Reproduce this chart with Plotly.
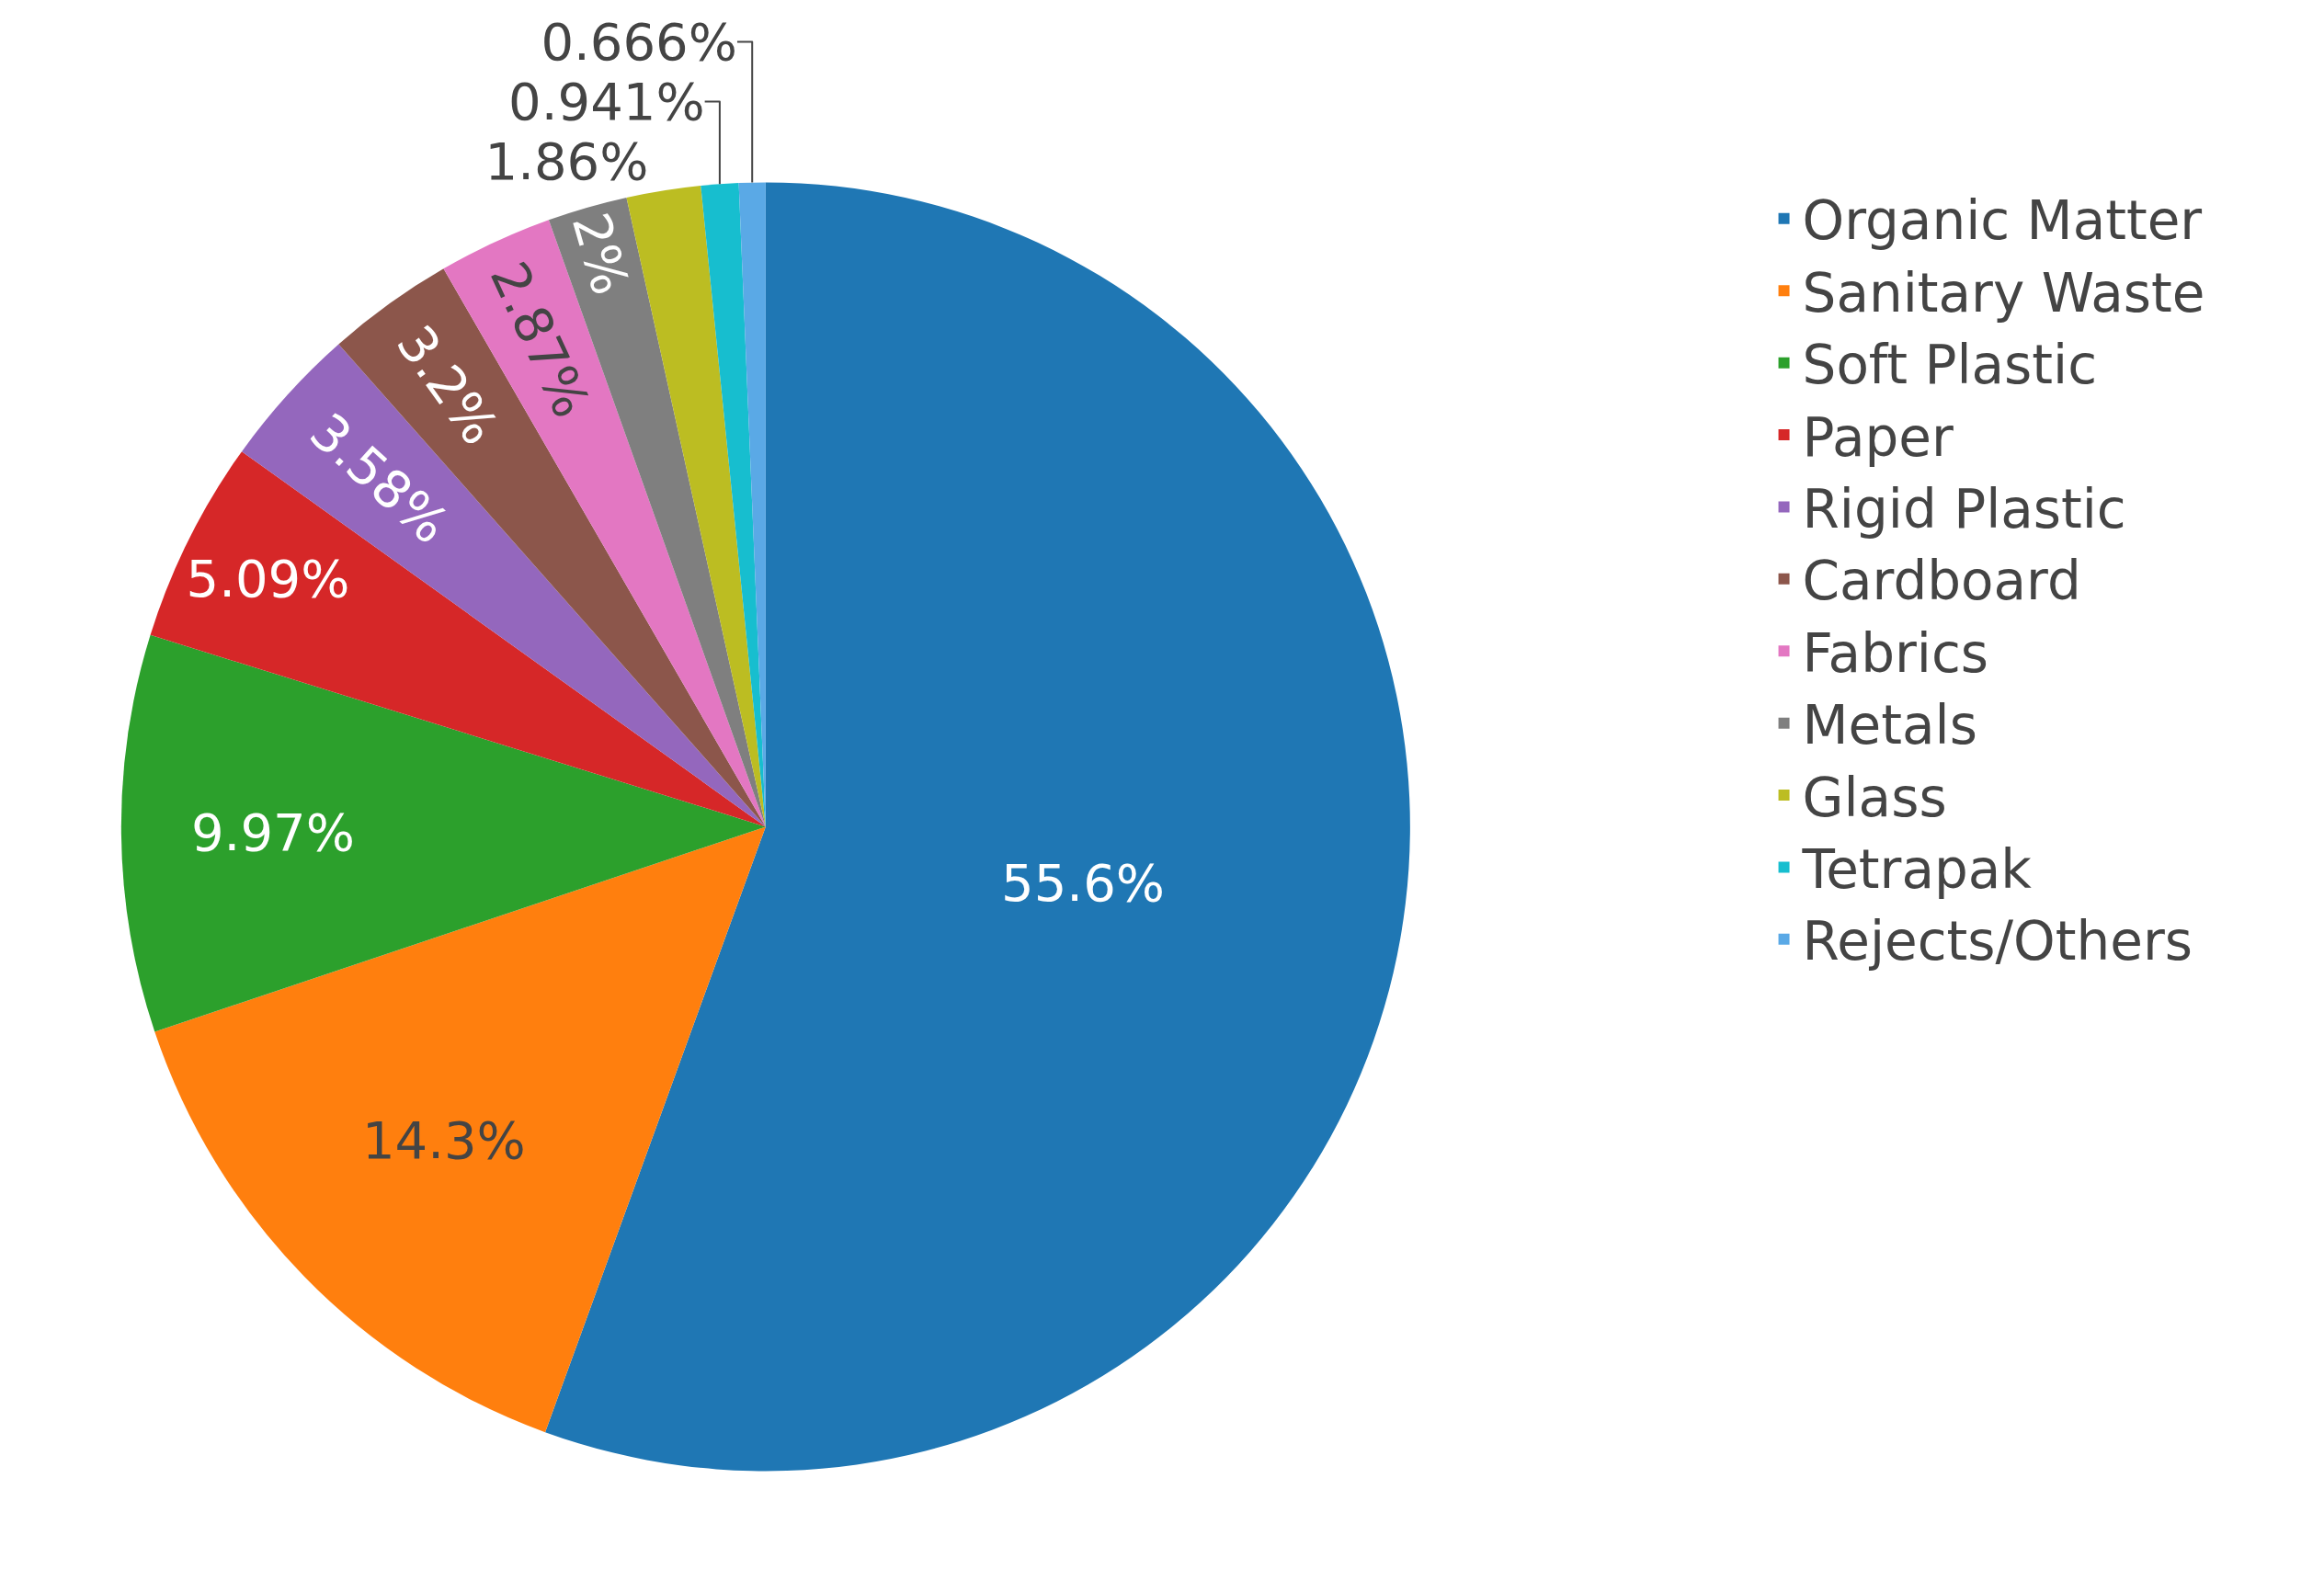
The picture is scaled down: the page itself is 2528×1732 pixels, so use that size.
import plotly.graph_objects as go

labels = ["Organic Matter", "Sanitary Waste", "Soft Plastic", "Paper", "Rigid Plastic",
          "Cardboard", "Fabrics", "Metals", "Glass", "Tetrapak", "Rejects/Others"]
values = [55.6, 14.3, 9.97, 5.09, 3.58, 3.2, 2.87, 2.0, 1.86, 0.941, 0.666]
pct_text = ["55.6%", "14.3%", "9.97%", "5.09%", "3.58%", "3.2%", "2.87%", "2%",
            "1.86%", "0.941%", "0.666%"]
colors = ["#1f77b4", "#ff7f0e", "#2ca02c", "#d62728", "#9467bd", "#8c564b",
          "#e377c2", "#7f7f7f", "#bcbd22", "#17becf", "#5aa9e6"]

fig = go.Figure(go.Pie(
    labels=labels, values=values, sort=False, direction="clockwise",
    text=pct_text, textinfo="text", textposition="auto",
    marker=dict(colors=colors),
    domain=dict(x=[0.019, 0.625], y=[0.088, 0.972]),
))
fig.update_layout(
    width=2528, height=1732,
    margin=dict(l=0, r=0, t=0, b=0),
    font=dict(family="DejaVu Sans", size=56, color="#444"),
    paper_bgcolor="white",
    legend=dict(x=0.755, y=0.975, xanchor="left", yanchor="top",
                font=dict(size=58)),
)
fig.write_html("out.html")
